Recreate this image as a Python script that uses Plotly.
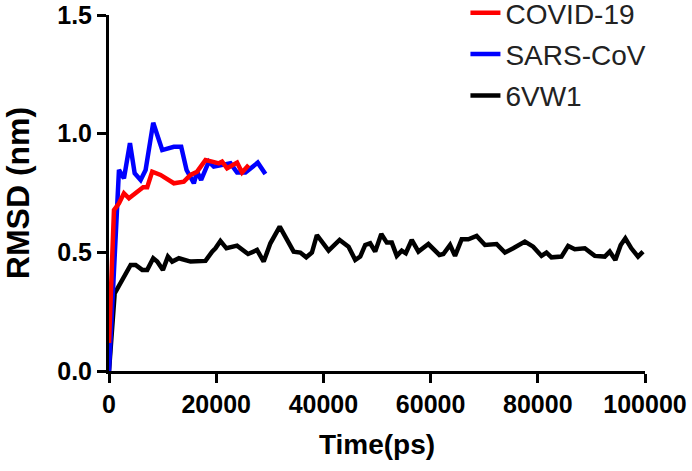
import plotly.graph_objects as go

# 6VW1 (black)
t_6vw1 = [0, 1060, 4040, 4970, 6200, 7130, 8250, 8990, 10060, 10990, 11790, 13040, 15210, 18000,
          19240, 19860, 20790, 21910, 23890, 25950, 27620, 28860, 30110, 31850, 34450, 35690,
          36800, 37860, 38790, 40970, 43020, 44690, 45940, 46870, 47800, 48730, 49660, 50800,
          51830, 52760, 53690, 54620, 55370, 56480, 57730, 59590, 61640, 62380, 63630, 64560,
          65800, 67040, 68590, 70150, 72310, 73870, 75420, 77590, 79140, 80690, 81620, 82550,
          84420, 85660, 86900, 88770, 90630, 92490, 93420, 94470, 95470, 96330, 97450, 98700, 99630]
v_6vw1 = [0.0, 0.327, 0.447, 0.447, 0.426, 0.426, 0.475, 0.461, 0.426, 0.482, 0.461, 0.475, 0.461, 0.464,
          0.503, 0.517, 0.548, 0.517, 0.528, 0.493, 0.510, 0.461, 0.538, 0.608, 0.503, 0.499,
          0.479, 0.499, 0.573, 0.507, 0.552, 0.524, 0.468, 0.482, 0.531, 0.538, 0.503, 0.577,
          0.541, 0.541, 0.485, 0.507, 0.496, 0.552, 0.503, 0.535, 0.489, 0.493, 0.531, 0.485,
          0.555, 0.555, 0.569, 0.531, 0.535, 0.499, 0.517, 0.545, 0.524, 0.485, 0.499, 0.479,
          0.482, 0.527, 0.513, 0.517, 0.485, 0.482, 0.503, 0.468, 0.531, 0.559, 0.517, 0.482, 0.503]

# SARS-CoV (blue)
t_sars = [0, 1860, 2790, 3910, 4790, 5900, 6830, 8250, 9930, 12100, 13470, 14470, 15830, 16440,
          17190, 18620, 19550, 21100, 22660, 23900, 25450, 27750, 29180]
v_sars = [0.0, 0.847, 0.812, 0.960, 0.833, 0.805, 0.847, 1.046, 0.931, 0.945, 0.945, 0.847, 0.791, 0.840,
          0.805, 0.882, 0.861, 0.868, 0.875, 0.836, 0.836, 0.878, 0.830]

# COVID-19 (red)
t_covid = [0, 930, 1860, 2790, 3720, 4970, 6370, 7130, 8060, 9620, 10550, 12100, 13970, 15210,
           16440, 18000, 19240, 20480, 21100, 22030, 23900, 24820, 26070]
v_covid = [0.118, 0.678, 0.707, 0.749, 0.728, 0.749, 0.774, 0.774, 0.840, 0.826, 0.812, 0.791, 0.798, 0.826,
           0.840, 0.889, 0.882, 0.875, 0.882, 0.854, 0.878, 0.836, 0.868]

x_ticks = [0, 20000, 40000, 60000, 80000, 100000]
y_ticks = [0.0, 0.5, 1.0, 1.5]

FONT = "Liberation Sans, Arial, Helvetica, sans-serif"

fig = go.Figure()
fig.add_trace(go.Scatter(x=t_6vw1, y=v_6vw1, mode="lines", name="6VW1",
                         line=dict(color="#000000", width=4.5), legendrank=3, legendgroup="c"))
fig.add_trace(go.Scatter(x=t_sars, y=v_sars, mode="lines", name="SARS-CoV",
                         line=dict(color="#0000ff", width=4.5), legendrank=2, legendgroup="b"))
fig.add_trace(go.Scatter(x=t_covid, y=v_covid, mode="lines", name="COVID-19",
                         line=dict(color="#ff0000", width=4.5), legendrank=1, legendgroup="a"))

axis_common = dict(showline=True, linecolor="black", linewidth=3, ticks="outside",
                   ticklen=9, tickwidth=3, tickcolor="black", showgrid=False, zeroline=False,
                   automargin=False,
                   tickfont=dict(family=FONT, size=25, color="black", weight="bold"))

fig.update_xaxes(range=[0, 100000], tickvals=x_ticks, ticktext=[str(v) for v in x_ticks],
                 title=dict(text="Time(ps)", font=dict(family=FONT, size=28, color="black", weight="bold"),
                            standoff=18),
                 **axis_common)
fig.update_yaxes(range=[0, 1.5], tickvals=y_ticks, ticktext=[f"{v:.1f}" for v in y_ticks],
                 title=dict(text="RMSD (nm)", font=dict(family=FONT, size=32, color="black", weight="bold"),
                            standoff=27),
                 **axis_common)

fig.update_layout(
    width=692, height=471,
    margin=dict(l=109, r=47, t=15, b=100, autoexpand=False),
    paper_bgcolor="white", plot_bgcolor="white",
    showlegend=True,
    legend=dict(x=0.665, y=1.076, xanchor="left", yanchor="top",
                font=dict(family=FONT, size=28, color="#222222"),
                tracegroupgap=2, bgcolor="rgba(0,0,0,0)"),
)

fig.write_html("out.html", config={"displayModeBar": False},
               post_script="document.body.style.margin='0';document.body.style.overflow='hidden';")
